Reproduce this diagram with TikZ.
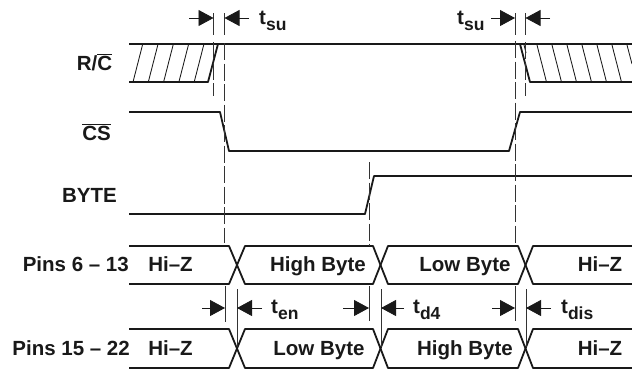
\documentclass[tikz,border=0pt]{standalone}
\usepackage{fontspec}
\setmainfont{Liberation Sans}
\usetikzlibrary{arrows.meta}
\tikzset{
  x=1pt,y=-1pt,
  signal/.style={line width=1.8pt,line join=round,color=black!90},
  hatch/.style={line width=0.85pt,color=black!90},
  guide/.style={line width=0.75pt,color=black!80},
  guidedash/.style={guide,dash pattern=on 17pt off 3.5pt},
  dimarrow/.style={line width=0.8pt,color=black!90,-{Triangle[length=15pt,width=16pt,sep=0pt]}},
  lab/.style={font=\fontsize{20.5}{22}\selectfont\bfseries,inner sep=0pt,text=black!90,anchor=base},
  tlab/.style={lab,anchor=base west},
}
\newcommand{\tsub}[1]{t\raisebox{-0.32em}{\fontsize{17.5}{18}\selectfont\bfseries #1}}
\begin{document}
\begin{tikzpicture}
\useasboundingbox (0,0) rectangle (632,370);
% R/C
\draw[signal] (129,44) -- (632,44);
\draw[signal] (129,82) -- (208,82) -- (218,44);
\draw[signal] (520,44) -- (530,82) -- (632,82);
\foreach \a in {133,148.3,163.6,178.9,194.2}
  \draw[hatch] (\a,82) -- (\a+9.5,45);
\foreach \a in {537,552,567,582,597,612}
  \draw[hatch] (\a,45) -- (\a+9.5,82);
\draw[hatch] (524,45) -- (526,53);
\draw[hatch] (627,45) -- (632,64);
% CS
\draw[signal] (129,112) -- (220,112) -- (229,151) -- (509,151) -- (520,112) -- (632,112);
% BYTE
\draw[signal] (129,214) -- (365,214) -- (374,176) -- (632,176);
% buses
\foreach \t/\b in {246/284,329/368}{
  \draw[signal] (129,\t) -- (229,\t) -- (245,\b) -- (373,\b) -- (388,\t) -- (518,\t) -- (533,\b) -- (632,\b);
  \draw[signal] (129,\b) -- (229,\b) -- (245,\t) -- (373,\t) -- (388,\b) -- (518,\b) -- (533,\t) -- (632,\t);
}
% guides
\draw[guide] (213.5,13) -- (213.5,35);
\draw[guide] (224.5,13) -- (224.5,35);
\draw[guide] (515,13) -- (515,35);
\draw[guide] (525.5,13) -- (525.5,35);
\draw[guidedash] (213.5,42) -- (213.5,96);
\draw[guidedash] (525.5,42) -- (525.5,96);
\draw[guidedash] (224.5,43) -- (224.5,243);
\draw[guidedash] (515,41) -- (515,243);
\draw[guidedash] (369,162) -- (369,246);
\draw[guide] (225,286) -- (225,322);
\draw[guide] (369,286) -- (369,321);
\draw[guide] (515,286) -- (515,321);
\draw[guide] (237,289) -- (237,347);
\draw[guide] (381,289) -- (381,347);
\draw[guide] (526,289) -- (526,347);
% dimension arrows
\coordinate (a1) at (189,18);\coordinate (a1e) at (213.5,18);
\coordinate (a2) at (249,18);\coordinate (a2e) at (224.5,18);
\coordinate (a3) at (491,18);\coordinate (a3e) at (515,18);
\coordinate (a4) at (550,18);\coordinate (a4e) at (525.5,18);
\coordinate (b1) at (202,308);\coordinate (b1e) at (225,308);
\coordinate (b2) at (262,308);\coordinate (b2e) at (237,308);
\coordinate (b3) at (343,308);\coordinate (b3e) at (369,308);
\coordinate (b4) at (404,308);\coordinate (b4e) at (381,308);
\coordinate (b5) at (492,308);\coordinate (b5e) at (515,308);
\coordinate (b6) at (551,308);\coordinate (b6e) at (526,308);
\foreach \p in {a1,a2,a3,a4,b1,b2,b3,b4,b5,b6}
  \draw[dimarrow] (\p) -- (\p e);
% labels
\node[lab] (lrc) at (94.5,70) {R/$\overline{\mbox{C}}$};
\node[lab] (lcs) at (96.5,140) {$\overline{\mbox{CS}}$};
\node[lab] (lbyte) at (89.5,202) {BYTE};
\node[lab,anchor=base east] (lp1) at (129,271) {Pins 6 – 13};
\node[lab,anchor=base east] (lp2) at (130,355) {Pins 15 – 22};
\node[lab] (h1) at (170.5,271) {Hi–Z};
\node[lab] (h2) at (170.5,355) {Hi–Z};
\node[lab] (hb1) at (318,271) {High Byte};
\node[lab] (lb1) at (465,271) {Low Byte};
\node[lab] (hz3) at (600,271) {Hi–Z};
\node[lab] (lb2) at (319,355) {Low Byte};
\node[lab] (hb2) at (465,355) {High Byte};
\node[lab] (hz4) at (600,355) {Hi–Z};
\node[tlab] (t1) at (259,24) {\tsub{su}};
\node[tlab] (t2) at (457,24) {\tsub{su}};
\node[tlab] (t3) at (271,313) {\tsub{en}};
\node[tlab] (t4) at (413,313) {\tsub{d4}};
\node[tlab] (t5) at (561,313) {\tsub{dis}};
\end{tikzpicture}
\end{document}
